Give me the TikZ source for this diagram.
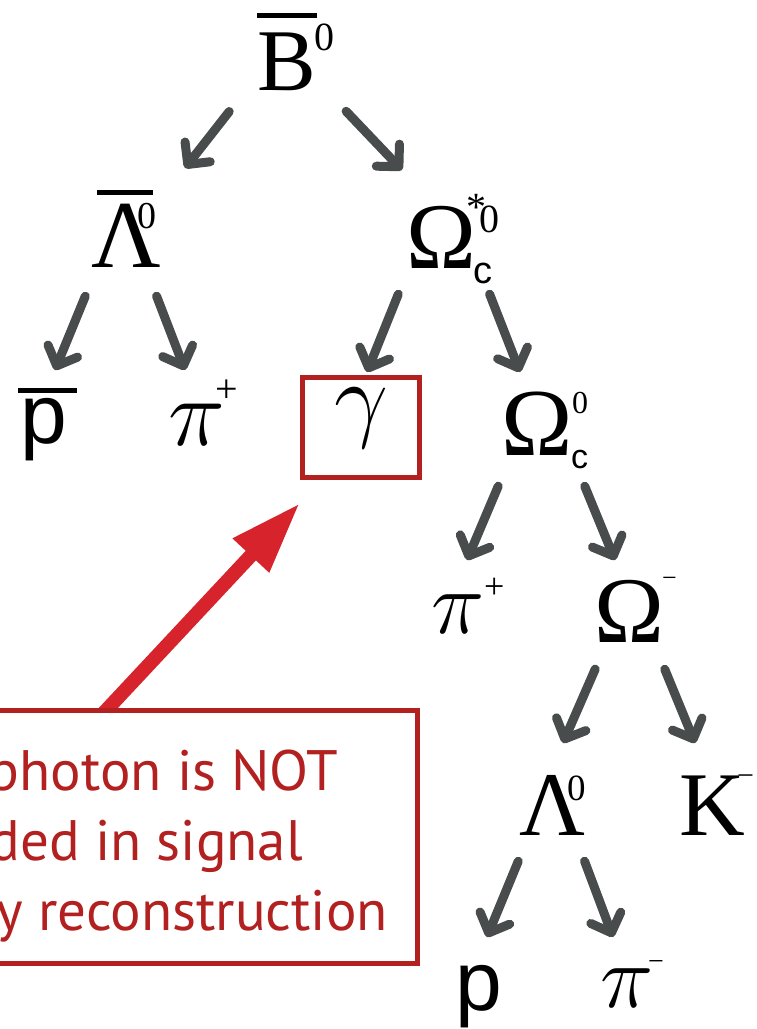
\RequirePackage{fix-cm}
\documentclass[tikz,border=0pt]{standalone}
\usepackage{fontspec}
\setmainfont{Liberation Serif}
\setsansfont{Liberation Sans}
\newfontfamily\notefont{PT Sans}
\usepackage{tikz}
\usetikzlibrary{arrows.meta,backgrounds}
\definecolor{decaygrey}{RGB}{72,76,76}
\definecolor{notered}{RGB}{178,32,32}
\definecolor{pointred}{RGB}{215,35,43}
\newcommand{\hi}[4][40]{\rlap{\hskip#2\raisebox{#3}{\fontsize{#1}{#1}\selectfont #4}}}
\newcommand{\lo}[4][38]{\rlap{\hskip#2\raisebox{-#3}{\fontsize{#1}{#1}\selectfont\sffamily #4}}}
\newcommand{\ovl}[3]{\rlap{\hskip#1\raisebox{#2}{\rule{#3}{5pt}}}}
\tikzset{particle/.style={inner sep=0pt, outer sep=0pt, anchor=base west, font=\fontsize{#1}{#1}\selectfont}, particle/.default=92, light/.style={inner sep=0pt, outer sep=0pt, anchor=base west, font=\fontsize{#1}{#1}\selectfont\sffamily}, decay/.style={-{Straight Barb[length=16pt, width=32pt, round]}, line width=9pt, line cap=round, draw=decaygrey, shorten <=4.5pt}, redbox/.style={rectangle, draw=notered, line width=5pt, inner sep=0pt, outer sep=0pt}, notetext/.style={anchor=base east, inner sep=0pt, text=notered, font=\notefont\fontsize{57}{57}\selectfont}, pointer/.style={-{Triangle[length=72pt, width=46pt]}, line width=14pt, draw=pointred}}

\begin{document}
\begin{tikzpicture}[x=1pt, y=-1pt]
\useasboundingbox (0,0) rectangle (757,1029);
\clip (0,0) rectangle (757,1029);
\node[particle=88] (B) at (257,90) {\ovl{0pt}{72pt}{60pt}\hi{57pt}{40pt}{0}B};
\node[particle=96] (Lbar) at (91,267) {\ovl{6pt}{72pt}{56pt}\hi[38]{46pt}{39pt}{0}Λ};
\node[particle=94] (Oms) at (406,268) {\hi{60pt}{48pt}{*}\hi{73pt}{36pt}{0}\lo{67pt}{15pt}{c}Ω};
\node[light=84] (pbar) at (20,443) {\ovl{-2pt}{50pt}{59pt}p};
\node[particle=96] (pip1) at (168,445) {\hi{47pt}{43pt}{+}$\pi$};
\node[redbox, minimum width=117pt, minimum height=100pt, text height=30pt, text depth=27pt, font=\fontsize{96}{96}\selectfont] (gam) at (361,427.5) {$\gamma$};
\node[particle=90] (pip2) at (431,633) {\hi[36]{53pt}{35pt}{+}$\pi$};
\node[particle=96] (Omc) at (501,455) {\hi[32]{71pt}{42pt}{0}\lo[34]{70pt}{13pt}{c}Ω};
\node[particle=94] (Omm) at (594,642) {\hi[26]{68pt}{56pt}{−}Ω};
\node[particle=91] (Lam) at (519,835) {\hi[37]{48pt}{35pt}{0}Λ};
\node[particle=91] (Km) at (679,835) {\hi[30]{58pt}{50pt}{−}K};
\node[light=84] (pp) at (455,1010) {p};
\node[particle=90] (pim) at (600,1007) {\hi[28]{48pt}{37pt}{−}$\pi$};
\foreach \a/\ax/\ay/\b/\bx/\by in {B.base west/-25/18/Lbar.base west/94/-99, B.base west/86/18/Oms.base west/-4/-98, Lbar.base west/-4/25/pbar.base west/35/-73, Lbar.base west/64/25/pip1.base west/17/-75, Oms.base west/-6/22/gam.north/6/-5.5, Oms.base west/82/22/Omc.base west/19/-83, Omc.base west/-1/27/pip2.base west/36/-73, Omc.base west/82/27/Omm.base west/21/-82, Omm.base west/3/23/Lam.base west/44/-92, Omm.base west/69/23/Km.base west/16/-92, Lam.base west/1/22/pp.base west/32/-73, Lam.base west/64/22/pim.base west/13/-70} {\draw[decay] ([shift={(\ax,\ay)}]\a) -- ([shift={(\bx,\by)}]\b);}
\node[redbox, fill=white, minimum width=447pt, minimum height=253pt] (note) at (193.5,837) {};
\begin{scope}[on background layer]
\draw[pointer] ([shift={(-95,8)}]note.north) -- ([shift={(-2.5,25.5)}]gam.south west);
\end{scope}
\node[notetext] (note1) at (338,790) {photon is NOT};
\node[notetext] (note2) at (303,860) {ded in signal};
\node[notetext] (note3) at (388,930) {y reconstruction};
\end{tikzpicture}
\end{document}
